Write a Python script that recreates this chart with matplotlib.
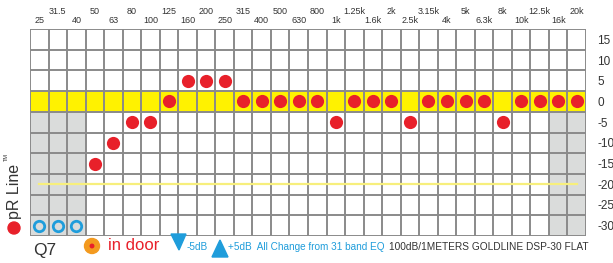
import numpy as np
import matplotlib
matplotlib.use("Agg")
import matplotlib.pyplot as plt
from matplotlib.patches import Rectangle, Ellipse, Polygon

plt.rcParams['font.family'] = ['Liberation Sans', 'DejaVu Sans']

# ---- data ----
bands = ['25', '31.5', '40', '50', '63', '80', '100', '125', '160', '200', '250',
         '315', '400', '500', '630', '800', '1k', '1.25k', '1.6k', '2k', '2.5k',
         '3.15k', '4k', '5k', '6.3k', '8k', '10k', '12.5k', '16k', '20k']
eq_db = [np.nan, np.nan, np.nan, -15, -10, -5, -5, 0, 5, 5, 5, 0, 0, 0, 0, 0,
         -5, 0, 0, 0, -5, 0, 0, 0, 0, -5, 0, 0, 0, 0]
cut_bands = ['25', '31.5', '40']
cut_level = [-30, -30, -30]
shaded_bands = ['25', '31.5', '40', '16k', '20k']
y_levels = [15, 10, 5, 0, -5, -10, -15, -20, -25, -30]
ref_level = -20

W, H = 613, 263
fig = plt.figure(figsize=(W / 100, H / 100), dpi=100)
L, R, T, B = 30, 586, 29, 236
ax = fig.add_axes([L / W, 1 - B / H, (R - L) / W, (B - T) / H])

n = len(bands)
x = np.arange(n)
ymin, ymax = min(y_levels) - 2.5, max(y_levels) + 2.5
ax.set_xlim(-0.5, n - 0.5)
ax.set_ylim(ymin, ymax)

grid_c = '#8a8a8a'
# shaded region (cut bands)
for b in shaded_bands:
    i = bands.index(b)
    ax.add_patch(Rectangle((i - 0.5, ymin), 1, -2.5 - ymin, facecolor='#dadcdb',
                           edgecolor='none', zorder=0))
# 0 dB yellow band
ax.axhspan(-2.5, 2.5, color='#fff200', zorder=0.5, lw=0)

# grid
ax.vlines(np.arange(-0.5, n, 1), ymin, ymax, colors=grid_c, lw=1.4, zorder=1)
ax.hlines(np.arange(ymin, ymax + 0.1, 5), -0.5, n - 0.5, colors=grid_c, lw=1.4, zorder=1)
for s in ax.spines.values():
    s.set_visible(False)

# reference line
ax.plot([0, n - 1], [ref_level, ref_level], color='#f7ef7c', lw=1.6, zorder=2)

# EQ points
ax.plot(x, eq_db, 'o', color='#e8202a', ms=9.5, mec='none', zorder=3)
# cut bands
cx = [bands.index(b) for b in cut_bands]
ax.plot(cx, cut_level, 'o', mfc='none', mec='#1f9ddb', mew=2.0, ms=7.5, zorder=3)

# y ticks on right
ax.yaxis.tick_right()
ax.set_yticks(y_levels)
ax.set_yticklabels([str(v) for v in y_levels])
ax.tick_params(axis='y', length=0, pad=8, labelsize=8.5, labelcolor='#333333')

# x labels top, staggered
ax.xaxis.tick_top()
ax.set_xticks(x[0::2])
ax.set_xticklabels(bands[0::2])
ax.set_xticks(x[1::2], minor=True)
ax.set_xticklabels(bands[1::2], minor=True)
ax.tick_params(axis='x', which='major', length=0, pad=3, labelsize=6.5, labelcolor='#333333')
ax.tick_params(axis='x', which='minor', length=0, pad=9.5, labelsize=6.5, labelcolor='#333333')

def fx(px):
    return px / W

def fy(py):
    return 1 - py / H

# left vertical brand text
fig.text(fx(14), fy(191), 'pR Line', rotation=90, ha='center', va='center',
         fontsize=11.5, color='#333333')
fig.text(fx(6), fy(157), 'TM', rotation=90, ha='center', va='center',
         fontsize=4, color='#333333')
fig.add_artist(Ellipse((fx(14), fy(228)), 12 / W, 12 / H,
                       transform=fig.transFigure, color='#e8202a'))

# bottom legend row
fig.text(fx(33), fy(251), 'Q7', ha='left', va='center', fontsize=12.5, color='#333333')
fig.add_artist(Ellipse((fx(92), fy(246)), 15 / W, 15 / H,
                       transform=fig.transFigure, color='#f39a1f'))
fig.add_artist(Ellipse((fx(92), fy(246)), 3.5 / W, 3.5 / H,
                       transform=fig.transFigure, color='#e8202a'))
fig.text(fx(108), fy(246), 'in door', ha='left', va='center', fontsize=12, color='#e8202a')
fig.add_artist(Polygon([[fx(171), fy(234)], [fx(186), fy(234)], [fx(179), fy(250)]],
                       closed=True, transform=fig.transFigure, color='#1f9ddb'))
fig.text(fx(187), fy(247), '-5dB', ha='left', va='center', fontsize=7.2, color='#1f9ddb')
fig.add_artist(Polygon([[fx(212), fy(257)], [fx(228), fy(257)], [fx(220), fy(240)]],
                       closed=True, transform=fig.transFigure, color='#1f9ddb'))
fig.text(fx(228), fy(246.5), '+5dB  All Change from 31 band EQ', ha='left', va='center',
         fontsize=7.2, color='#1f9ddb')
fig.text(fx(389), fy(246.5), '100dB/1METERS GOLDLINE DSP-30 FLAT', ha='left', va='center',
         fontsize=7.3, color='#333333')

fig.savefig('out.png', dpi=100)
